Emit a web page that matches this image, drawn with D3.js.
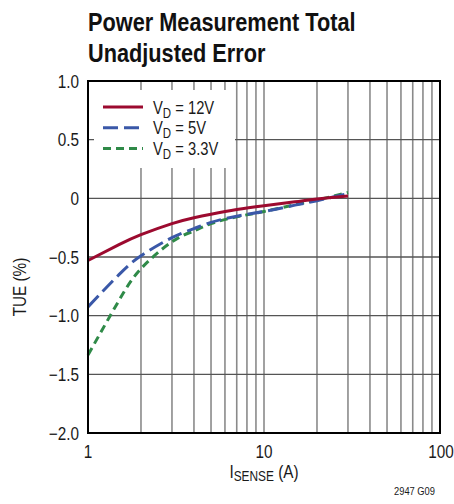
<!DOCTYPE html>
<html><head><meta charset="utf-8">
<script src="https://cdn.jsdelivr.net/npm/d3@7"></script>
<style>body{margin:0;background:#fff}svg{display:block}text{font-family:"Liberation Sans",Arial,sans-serif}</style>
</head><body><svg id="c" width="454" height="504"></svg>
<script>
const current = [1, 1.5, 2, 3, 4, 5, 7, 10, 15, 20, 30];
const tue12 = [-0.53, -0.395, -0.31, -0.215, -0.165, -0.135, -0.095, -0.063, -0.03, -0.005, 0.02];
const tue5  = [-0.925, -0.65, -0.49, -0.335, -0.258, -0.205, -0.152, -0.112, -0.058, -0.02, 0.04];
const tue33 = [-1.335, -0.87, -0.6, -0.37, -0.278, -0.215, -0.158, -0.112, -0.055, -0.015, 0.05];
const seriesNames = ["12V", "5V", "3.3V"];
const yTicks = [1.0, 0.5, 0, -0.5, -1.0, -1.5, -2.0];
const yTickLabels = ["1.0", "0.5", "0", "\u22120.5", "\u22121.0", "\u22121.5", "\u22122.0"];
const xTicks = [1, 10, 100];
const xTickLabels = ["1", "10", "100"];

const svg = d3.select("#c");
const L = 88, R = 440, T = 81, B = 433;
const x = d3.scaleLog().domain([1, 100]).range([L, R]);
const y = d3.scaleLinear().domain([-2, 1]).range([B, T]);

function txt(parent, px, py, size, anchor, sx, extra) {
  return parent.append("text")
    .attr("transform", `translate(${px},${py}) scale(${sx},1)` + (extra || ""))
    .attr("font-size", size).attr("text-anchor", anchor).attr("fill", "#1a1a1a");
}

// title
txt(svg, 88, 31, 26.5, "start", 0.82).attr("font-weight", "bold").attr("fill", "#111").text("Power Measurement Total");
txt(svg, 88, 62, 26.5, "start", 0.82).attr("font-weight", "bold").attr("fill", "#111").text("Unadjusted Error");

// grid
const minor = [];
for (let d = 1; d < 100; d *= 10) for (let k = 2; k <= 9; k++) minor.push(d * k);
minor.push(10);
svg.append("g").selectAll("line").data(minor).join("line")
  .attr("x1", d => x(d)).attr("x2", d => x(d)).attr("y1", T).attr("y2", B)
  .attr("stroke", "#8a8a8a").attr("stroke-width", 1.6);
svg.append("g").selectAll("line").data(yTicks).join("line")
  .attr("x1", L).attr("x2", R).attr("y1", d => y(d)).attr("y2", d => y(d))
  .attr("stroke", "#555").attr("stroke-width", 1.4);

// legend box (white, covers grid)
svg.append("rect").attr("x", 94).attr("y", 90).attr("width", 141).attr("height", 78).attr("fill", "#fff");

// curves
const colors = ["#9c0a2f", "#3a58a8", "#2f8a48"];
const dashes = [null, "15,6", "8,5"];
const allSeries = [tue12, tue5, tue33];
const line = d3.line().x(d => x(d[0])).y(d => y(d[1])).curve(d3.curveNatural);
[2, 1, 0].forEach(i => {
  svg.append("path").datum(current.map((c, j) => [c, allSeries[i][j]]))
    .attr("d", line).attr("fill", "none").attr("stroke", colors[i])
    .attr("stroke-width", 3).attr("stroke-dasharray", dashes[i]);
});

// frame
svg.append("rect").attr("x", L).attr("y", T).attr("width", R - L).attr("height", B - T)
  .attr("fill", "none").attr("stroke", "#000").attr("stroke-width", 2);

// axes labels
yTicks.forEach((t, i) => {
  txt(svg, 79, y(t) + 6.5, 18, "end", 0.85).text(yTickLabels[i]);
});
xTicks.forEach((t, i) => {
  txt(svg, x(t) + (i === 2 ? 1 : 0), 458, 18, "middle", 0.85).text(xTickLabels[i]);
});
svg.append("text").attr("transform", "translate(26,287) rotate(-90) scale(0.85,1)")
  .attr("text-anchor", "middle").attr("font-size", 18).attr("fill", "#1a1a1a").text("TUE (%)");
const xl = txt(svg, 264, 478, 18, "middle", 0.85);
xl.append("tspan").text("I");
xl.append("tspan").attr("font-size", 14).attr("dy", 3).text("SENSE");
xl.append("tspan").attr("dy", -3).text(" (A)");
txt(svg, 435, 495, 11, "end", 0.85).text("2947 G09");

// legend
seriesNames.forEach((n, i) => {
  const yy = 107 + i * 20.8;
  svg.append("line").attr("x1", 103).attr("x2", 143).attr("y1", yy).attr("y2", yy)
    .attr("stroke", colors[i]).attr("stroke-width", 3).attr("stroke-dasharray", dashes[i]);
  const t = txt(svg, 153, yy + 6.5, 18, "start", 0.82);
  t.append("tspan").text("V");
  t.append("tspan").attr("font-size", 14).attr("dy", 4).text("D");
  t.append("tspan").attr("dy", -4).text(" = " + n);
});
</script></body></html>
